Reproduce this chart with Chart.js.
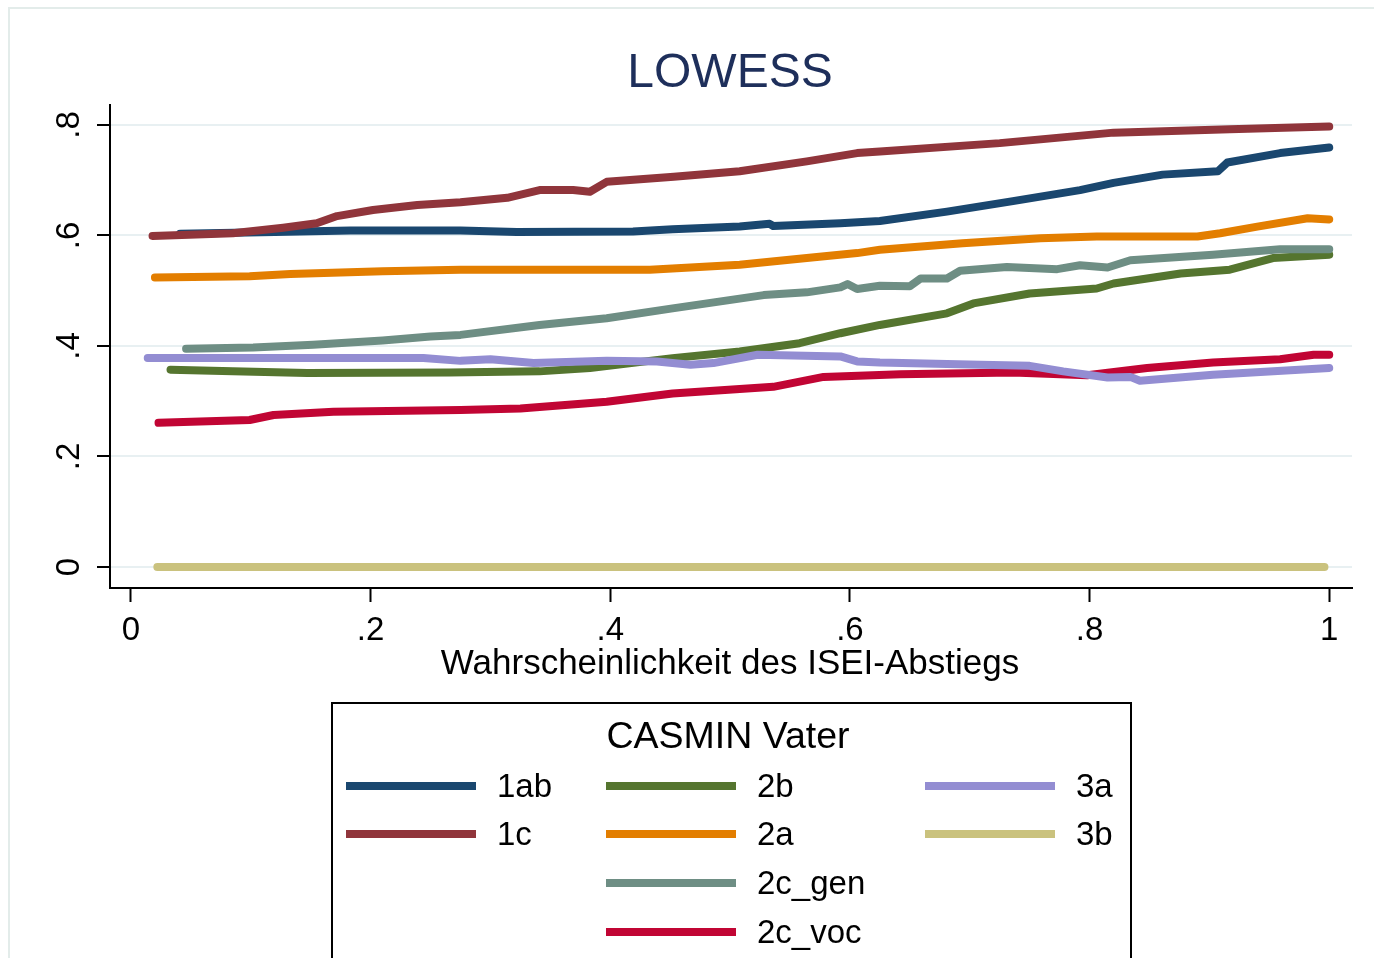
<!DOCTYPE html>
<html>
<head>
<meta charset="utf-8">
<script src="https://cdn.jsdelivr.net/npm/chart.js@4.4.1/dist/chart.umd.min.js"></script>
<style>
  html, body { margin: 0; padding: 0; background: #fff; }
  #wrap { width: 1374px; height: 958px; position: relative; }
</style>
</head>
<body>
<div id="wrap"><canvas id="lowess" width="1374" height="958"></canvas></div>
<script>
// Kategorien (CASMIN Vater)
const labels = ['1ab', '1c', '2b', '2a', '2c_gen', '2c_voc', '3a', '3b'];
const colors = ['#1A476F', '#90353B', '#55752F', '#E37E00', '#6E8E84', '#C10534', '#938DD2', '#CAC27E'];

// LOWESS-Kurven, x = Wahrscheinlichkeit, y = geglätteter Wert
const x1ab = [0.041, 0.12, 0.183, 0.275, 0.322, 0.419, 0.452, 0.508, 0.533, 0.536, 0.592, 0.625, 0.681, 0.736, 0.792, 0.82, 0.861, 0.907, 0.915, 0.959, 1.0];
const y1ab = [0.603, 0.606, 0.609, 0.609, 0.606, 0.607, 0.611, 0.616, 0.621, 0.617, 0.622, 0.626, 0.643, 0.662, 0.682, 0.695, 0.71, 0.716, 0.732, 0.749, 0.759];

const x1c = [0.018, 0.085, 0.127, 0.155, 0.172, 0.202, 0.239, 0.275, 0.314, 0.341, 0.369, 0.383, 0.397, 0.453, 0.508, 0.564, 0.606, 0.625, 0.725, 0.82, 0.917, 1.0];
const y1c = [0.599, 0.604, 0.614, 0.622, 0.635, 0.646, 0.655, 0.66, 0.668, 0.682, 0.682, 0.679, 0.697, 0.706, 0.716, 0.734, 0.749, 0.752, 0.767, 0.786, 0.792, 0.797];

const x2b = [0.033, 0.085, 0.147, 0.266, 0.341, 0.383, 0.452, 0.508, 0.558, 0.592, 0.625, 0.681, 0.703, 0.75, 0.806, 0.82, 0.876, 0.917, 0.953, 1.0];
const y2b = [0.357, 0.354, 0.351, 0.352, 0.354, 0.36, 0.378, 0.39, 0.405, 0.423, 0.438, 0.459, 0.477, 0.495, 0.504, 0.513, 0.531, 0.538, 0.559, 0.565];

const x2a = [0.02, 0.099, 0.133, 0.21, 0.275, 0.433, 0.508, 0.564, 0.606, 0.625, 0.694, 0.759, 0.806, 0.89, 0.909, 0.94, 0.982, 1.0];
const y2a = [0.524, 0.526, 0.53, 0.535, 0.538, 0.538, 0.547, 0.559, 0.568, 0.574, 0.586, 0.595, 0.598, 0.598, 0.604, 0.616, 0.631, 0.629];

const x2cGen = [0.046, 0.102, 0.152, 0.21, 0.25, 0.275, 0.341, 0.397, 0.452, 0.528, 0.564, 0.592, 0.598, 0.606, 0.625, 0.65, 0.659, 0.681, 0.692, 0.731, 0.773, 0.792, 0.815, 0.834, 0.903, 0.959, 1.0];
const y2cGen = [0.395, 0.397, 0.402, 0.41, 0.417, 0.42, 0.438, 0.45, 0.468, 0.492, 0.497, 0.506, 0.512, 0.503, 0.509, 0.508, 0.522, 0.522, 0.536, 0.543, 0.539, 0.546, 0.542, 0.555, 0.565, 0.575, 0.575];

const x2cVoc = [0.023, 0.099, 0.119, 0.169, 0.275, 0.325, 0.397, 0.452, 0.536, 0.578, 0.642, 0.736, 0.798, 0.848, 0.903, 0.959, 0.987, 1.0];
const y2cVoc = [0.261, 0.266, 0.275, 0.281, 0.284, 0.287, 0.299, 0.314, 0.326, 0.344, 0.349, 0.352, 0.347, 0.36, 0.37, 0.376, 0.384, 0.384];

const x3a = [0.014, 0.244, 0.275, 0.3, 0.336, 0.397, 0.439, 0.467, 0.486, 0.523, 0.592, 0.606, 0.625, 0.709, 0.75, 0.778, 0.815, 0.834, 0.842, 0.903, 1.0];
const y3a = [0.378, 0.378, 0.373, 0.376, 0.369, 0.373, 0.372, 0.366, 0.369, 0.384, 0.381, 0.372, 0.37, 0.366, 0.364, 0.354, 0.343, 0.344, 0.337, 0.348, 0.36];

const x3b = [0.022, 0.5, 0.996];
const y3b = [0, 0, 0];

// Achsenbeschriftungen
const xTicks = [0, 0.2, 0.4, 0.6, 0.8, 1];
const yTicks = [0, 0.2, 0.4, 0.6, 0.8];
const legendCols = [['1ab', '1c'], ['2b', '2a', '2c_gen', '2c_voc'], ['3a', '3b']];

const FONT = '"Liberation Sans", Arial, sans-serif';
const seriesX = [x1ab, x1c, x2b, x2a, x2cGen, x2cVoc, x3a, x3b];
const seriesY = [y1ab, y1c, y2b, y2a, y2cGen, y2cVoc, y3a, y3b];

function fmtTick(v) {
    return v === 0 ? '0' : String(v).replace(/^0/, '');
}

const datasets = labels.map((label, i) => ({
    label: label,
    data: seriesX[i].map((x, j) => ({ x: x, y: seriesY[i][j] })),
    borderColor: colors[i],
    backgroundColor: colors[i],
    borderWidth: 8,
    borderCapStyle: 'round',
    borderJoinStyle: 'round',
    pointRadius: 0,
    tension: 0,
    order: 10 - i
}));

// Titel, Achsentexte und Legende selbst zeichnen
const decorPlugin = {
    id: 'decor',
    beforeDraw(chart) {
        const ctx = chart.ctx;
        ctx.save();
        ctx.fillStyle = '#fff';
        ctx.fillRect(0, 0, chart.width, chart.height);
        ctx.strokeStyle = '#E3ECEA';
        ctx.lineWidth = 2;
        ctx.strokeRect(9, 8, 1420, 1000);
        ctx.restore();
    },
    afterDraw(chart) {
        const ctx = chart.ctx;
        const xs = chart.scales.x;
        const ys = chart.scales.y;
        ctx.save();

        ctx.fillStyle = '#1E2F5B';
        ctx.font = '48px ' + FONT;
        ctx.textAlign = 'center';
        ctx.textBaseline = 'alphabetic';
        ctx.fillText('LOWESS', 730, 87);

        ctx.fillStyle = '#000';
        ctx.font = '33px ' + FONT;
        ctx.textBaseline = 'middle';
        xTicks.forEach(v => ctx.fillText(fmtTick(v), xs.getPixelForValue(v), 631));

        yTicks.forEach(v => {
            ctx.save();
            ctx.translate(70, ys.getPixelForValue(v));
            ctx.rotate(-Math.PI / 2);
            ctx.fillText(fmtTick(v), 0, 0);
            ctx.restore();
        });

        ctx.font = '35px ' + FONT;
        ctx.fillText('Wahrscheinlichkeit des ISEI-Abstiegs', 730, 664);

        // Legende
        ctx.strokeStyle = '#000';
        ctx.lineWidth = 2;
        ctx.strokeRect(332, 703, 799, 300);
        ctx.font = '37.5px ' + FONT;
        ctx.fillText('CASMIN Vater', 728, 738);

        const colLeft = [346, 606, 925];
        const rowY = [786, 834, 883, 932];
        ctx.font = '33px ' + FONT;
        ctx.textAlign = 'left';
        legendCols.forEach((col, c) => {
            col.forEach((label, r) => {
                const i = labels.indexOf(label);
                ctx.fillStyle = colors[i];
                ctx.fillRect(colLeft[c], rowY[r] - 4, 130, 8);
                ctx.fillStyle = '#000';
                ctx.fillText(label, colLeft[c] + 151, rowY[r] + 2);
            });
        });
        ctx.restore();
    }
};

new Chart(document.getElementById('lowess'), {
    type: 'line',
    data: { datasets: datasets },
    options: {
        responsive: false,
        animation: false,
        layout: { padding: { top: 105, right: 22, bottom: 0, left: 0 } },
        plugins: { legend: { display: false }, title: { display: false }, tooltip: { enabled: false } },
        scales: {
            x: {
                type: 'linear',
                min: -0.0175,
                max: 1.019,
                afterBuildTicks: s => { s.ticks = xTicks.map(v => ({ value: v })); },
                afterFit: s => { s.height = 370; },
                ticks: { display: false },
                grid: { drawOnChartArea: false, tickLength: 14, tickWidth: 2, tickColor: '#000' },
                border: { display: true, color: '#000', width: 2 }
            },
            y: {
                type: 'linear',
                min: -0.038,
                max: 0.836,
                afterBuildTicks: s => { s.ticks = yTicks.map(v => ({ value: v })); },
                afterFit: s => { s.width = 110; },
                ticks: { display: false },
                grid: { color: '#E8F0F2', lineWidth: 2, tickLength: 13, tickWidth: 2, tickColor: '#000' },
                border: { display: true, color: '#000', width: 2 }
            }
        }
    },
    plugins: [decorPlugin]
});
</script>
</body>
</html>
